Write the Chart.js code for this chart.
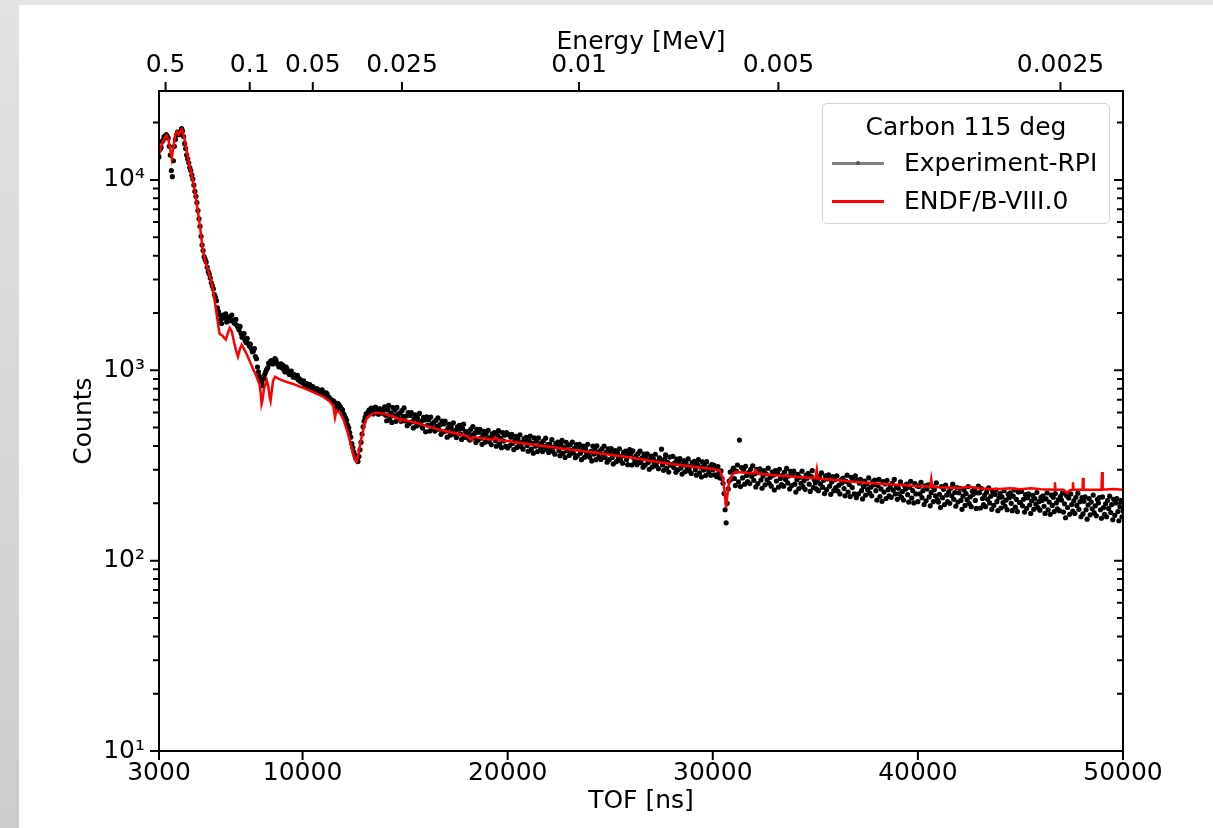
<!DOCTYPE html>
<html>
<head>
<meta charset="utf-8">
<title>Carbon 115 deg</title>
<script src="https://cdn.jsdelivr.net/npm/chart.js@4.4.1/dist/chart.umd.min.js"></script>
<style>
  html, body { margin: 0; padding: 0; }
  body { width: 1213px; height: 828px; background: #e4e4e4; position: relative; overflow: hidden; font-family: "DejaVu Sans", sans-serif; }
  .strip { position: absolute; left: 0; top: 5px; width: 19px; bottom: 0; background: linear-gradient(#e2e2e2, #cdcdcd); }
  .sheet { position: absolute; left: 19px; top: 5px; right: 0; bottom: 0; background: #fff; }
  .wrap { position: absolute; left: 0; top: 0; width: 1213px; height: 828px; }
  .legend { position: absolute; left: 822px; top: 103px; width: 286px; height: 119px; border: 1px solid #d3d3d3; border-radius: 5px; background: rgba(255,255,255,0.8); font-size: 25px; line-height: 30px; color: #000; }
  .legend .title { position: absolute; left: 0; right: 0; top: 8px; text-align: center; }
  .legend .row { position: absolute; left: 81px; white-space: nowrap; }
  .legend .swatch { position: absolute; left: 9px; width: 52px; height: 2.5px; }
  .legend .dot { position: absolute; left: 24px; top: -1px; width: 4px; height: 4px; border-radius: 50%; background: #555; }
</style>
</head>
<body>
<div class="strip"></div>
<div class="sheet"></div>
<div class="wrap"><canvas id="tof"></canvas></div>
<div class="legend">
  <div class="title">Carbon 115 deg</div>
  <div class="swatch" style="top:58px;background:#808080"><div class="dot"></div></div>
  <div class="row" style="top:44px">Experiment-RPI</div>
  <div class="swatch" style="top:96px;background:#ff0000"></div>
  <div class="row" style="top:82px">ENDF/B-VIII.0</div>
</div>
<script>
// axis ticks
const tofTicks = [3000, 10000, 20000, 30000, 40000, 50000];
const energyTicks = [0.5, 0.1, 0.05, 0.025, 0.01, 0.005, 0.0025]; // MeV
const countTicks = [10, 100, 1000, 10000];
const flightPath = 32.47; // m, matches the energy axis on top

// experiment, one value per 50 ns bin starting at 3000 ns (one row = 1000 ns)
const tofStart = 3000;
const tofStep = 50;
const expCounts = [
  13200, 14500, 14800, 15900, 16200, 16900, 16700, 17300, 17000, 16600, 15000, 13500, 11200, 10400, 12600, 15000, 16300, 17200, 17800, 17300,
  17300, 18000, 18600, 18100, 16900, 15500, 14600, 13500, 12900, 12300, 11600, 11200, 10600, 10100, 9400, 8700, 8200, 7600, 6900, 6250,
  5700, 5050, 4550, 4250, 3950, 3820, 3700, 3480, 3300, 3200, 3050, 2880, 2780, 2680, 2500, 2420, 2320, 2130, 2030, 1950,
  1840, 1760, 1950, 1890, 1880, 1980, 1790, 1850, 1900, 1820, 1860, 1950, 1830, 1780, 1760, 1850, 1720, 1680, 1630, 1700,
  1560, 1490, 1500, 1560, 1430, 1400, 1470, 1380, 1340, 1370, 1300, 1250, 1260, 1300, 1180, 1150, 1040, 980, 930, 890,
  860, 830, 900, 950, 980, 1010, 1030, 1090, 1080, 1120, 1120, 1080, 1100, 1150, 1130, 1090, 1070, 1040, 1050, 1080,
  1030, 1060, 1000, 980, 1040, 1010, 980, 950, 960, 990, 940, 920, 950, 930, 910, 940, 890, 900, 870, 880,
  860, 880, 830, 850, 850, 820, 815, 840, 800, 790, 820, 800, 790, 770, 800, 790, 770, 760, 775, 790,
  765, 750, 740, 760, 750, 720, 720, 705, 700, 690, 690, 680, 640, 620, 670, 665, 650, 640, 625, 620,
  590, 578, 560, 545, 515, 498, 470, 445, 412, 392, 372, 358, 345, 338, 332, 352, 382, 418, 462, 505,
  540, 565, 590, 575, 605, 620, 598, 632, 610, 590, 625, 640, 605, 615, 588, 628, 600, 612, 595, 620,
  642, 581, 543, 620, 654, 558, 598, 532, 637, 577, 617, 539, 638, 584, 554, 598, 539, 614, 572, 634,
  542, 575, 511, 599, 525, 579, 600, 537, 498, 557, 583, 510, 563, 535, 593, 516, 541, 497, 565, 548,
  475, 569, 515, 550, 480, 568, 520, 492, 533, 479, 545, 507, 562, 490, 518, 461, 540, 474, 522, 541,
  480, 445, 497, 520, 456, 504, 477, 530, 461, 484, 443, 505, 490, 513, 463, 433, 494, 521, 444, 476,
  465, 441, 477, 430, 490, 456, 506, 441, 467, 417, 489, 429, 473, 490, 440, 408, 457, 478, 419, 463,
  436, 484, 422, 443, 407, 464, 450, 471, 427, 399, 456, 482, 411, 440, 392, 470, 425, 456, 398, 471,
  391, 459, 402, 445, 461, 413, 383, 428, 449, 393, 435, 413, 458, 398, 418, 385, 438, 424, 444, 402,
  375, 427, 451, 385, 413, 367, 441, 399, 426, 374, 441, 404, 384, 415, 374, 426, 397, 440, 384, 407,
  370, 409, 389, 432, 375, 395, 362, 413, 401, 419, 379, 356, 406, 428, 366, 392, 348, 418, 378, 404,
  357, 406, 379, 420, 367, 389, 347, 407, 356, 394, 408, 367, 339, 380, 399, 349, 386, 367, 408, 354,
  350, 375, 334, 400, 363, 387, 339, 401, 367, 349, 377, 340, 387, 361, 400, 348, 370, 329, 387, 339,
  374, 388, 348, 322, 362, 378, 331, 367, 348, 387, 336, 353, 325, 370, 358, 376, 340, 319, 363, 383,
  364, 318, 377, 345, 328, 354, 319, 364, 339, 376, 327, 347, 309, 363, 318, 352, 364, 327, 302, 338,
  354, 310, 343, 325, 362, 314, 331, 304, 347, 336, 385, 318, 298, 340, 359, 306, 328, 292, 350, 317,
  319, 353, 308, 326, 291, 341, 300, 331, 343, 307, 285, 319, 335, 293, 324, 308, 342, 297, 313, 287,
  327, 316, 332, 300, 281, 320, 339, 289, 310, 275, 330, 299, 320, 280, 331, 303, 288, 311, 281, 319,
  300, 318, 282, 308, 276, 312, 290, 272, 296, 270, 255, 225, 185, 158, 200, 238, 262, 292, 268, 296,
  306, 270, 248, 295, 318, 259, 430, 245, 308, 272, 300, 252, 313, 280, 260, 291, 254, 302, 277, 315,
  264, 286, 244, 302, 254, 290, 303, 265, 240, 278, 297, 250, 286, 266, 306, 255, 274, 246, 292, 281,
  235, 297, 262, 289, 243, 302, 270, 251, 281, 246, 292, 267, 305, 256, 278, 238, 294, 248, 283, 295,
  252, 229, 266, 284, 239, 274, 255, 295, 245, 263, 237, 281, 271, 287, 252, 231, 276, 297, 242, 266,
  256, 238, 266, 233, 276, 253, 289, 243, 264, 225, 279, 236, 269, 282, 246, 223, 259, 276, 233, 266,
  242, 279, 232, 249, 224, 266, 256, 271, 239, 219, 261, 281, 229, 251, 217, 274, 242, 266, 224, 279,
  214, 265, 224, 255, 267, 233, 211, 245, 262, 221, 253, 236, 272, 226, 243, 219, 260, 250, 265, 233,
  208, 248, 267, 217, 238, 205, 260, 229, 253, 212, 264, 236, 219, 245, 215, 255, 234, 267, 224, 243,
  210, 240, 224, 259, 215, 231, 208, 247, 238, 252, 222, 203, 243, 261, 213, 233, 201, 254, 224, 247,
  204, 245, 224, 258, 214, 233, 197, 247, 206, 238, 250, 216, 194, 228, 245, 204, 236, 219, 256, 209,
  203, 223, 190, 245, 214, 237, 197, 249, 221, 204, 230, 200, 240, 219, 252, 210, 228, 193, 242, 203,
  227, 240, 207, 186, 218, 235, 195, 225, 209, 245, 200, 216, 192, 232, 223, 237, 207, 188, 227, 246,
  227, 189, 239, 212, 197, 221, 192, 229, 210, 241, 201, 218, 186, 231, 195, 223, 235, 204, 183, 214,
  225, 189, 216, 202, 233, 193, 208, 185, 223, 214, 227, 200, 183, 218, 235, 191, 210, 181, 229, 202,
  202, 231, 194, 210, 180, 222, 188, 214, 224, 196, 177, 206, 220, 186, 212, 198, 228, 190, 204, 184,
  215, 207, 219, 193, 177, 211, 227, 185, 203, 175, 221, 195, 215, 181, 225, 201, 187, 209, 183, 217,
  208, 226, 180, 199, 168, 220, 190, 213, 175, 224, 197, 182, 206, 177, 215, 195, 226, 186, 204, 170,
  214, 176, 205, 216, 185, 165, 196, 212, 174, 203, 187, 221, 178, 194, 172, 210, 201, 214, 185, 167,
  216, 190, 175, 199, 170, 207, 188, 218, 179, 197, 164, 210, 173, 201, 212, 181, 162, 192, 207, 170,
  182
];

// ENDF/B-VIII.0 calculation
const endfTof = [
  3000, 3080, 3180, 3280, 3370, 3450, 3540, 3620, 3700, 3780,
  3860, 3960, 4040, 4110, 4200, 4300, 4400, 4500, 4600, 4700,
  4800, 4900, 5000, 5100, 5200, 5300, 5400, 5500, 5600, 5700,
  5800, 5900, 5950, 6000, 6100, 6200, 6260, 6350, 6450, 6550,
  6650, 6750, 6850, 6950, 7030, 7150, 7300, 7450, 7600, 7750,
  7900, 7960, 8000, 8050, 8120, 8250, 8330, 8400, 8440, 8480,
  8560, 8660, 8800, 9000, 9500, 10000, 10500, 11000, 11300, 11500,
  11580, 11650, 11825, 12000, 12200, 12400, 12550, 12630, 12720, 12850,
  13000, 13130, 13400, 13600, 14000, 14400, 14700, 14750, 14800, 15200,
  15600, 16000, 16360, 16700, 17000, 17500, 18000, 18260, 18320, 18700,
  19000, 19300, 19400, 19500, 20000, 21000, 22000, 23000, 24000, 25000,
  26000, 27000, 28000, 29000, 30000, 30350, 30500, 30600, 30650, 30700,
  30800, 30950, 31100, 31500, 32000, 32100, 32200, 33000, 34000, 35000,
  35070, 35120, 36000, 37000, 38000, 39000, 40000, 40600, 40650, 40700,
  41000, 42000, 42500, 43000, 43500, 44000, 44500, 45000, 45500, 46000,
  46650, 46680, 46710, 47100, 47270, 47400, 47540, 47560, 47590, 48030,
  48050, 48080, 48950, 48980, 49010, 49500, 50000
];
const endfCounts = [
  13500, 14600, 15800, 16600, 17100, 16400, 14600, 13000, 14800, 17000,
  17900, 17300, 17900, 18400, 17200, 15300, 13300, 11800, 10500, 9300,
  8000, 6800, 5700, 4600, 3950, 3600, 3350, 3050, 2750, 2380,
  2000, 1690, 1560, 1540, 1520, 1470, 1450, 1560, 1670, 1600,
  1420, 1280, 1180, 1300, 1360, 1290, 1200, 1100, 1010, 930,
  840, 760, 665, 700, 800, 890, 820, 720, 690, 750,
  880, 925, 905, 885, 850, 810, 770, 726, 690, 650,
  565, 615, 598, 548, 470, 390, 340, 330, 360, 430,
  510, 562, 590, 598, 590, 572, 556, 540, 552, 540,
  528, 512, 498, 486, 478, 465, 452, 430, 446, 440,
  436, 432, 445, 432, 425, 410, 396, 383, 372, 360,
  348, 334, 322, 312, 303, 297, 268, 215, 190, 215,
  262, 282, 292, 290, 287, 298, 287, 281, 276, 271,
  300, 270, 265, 259, 254, 250, 246, 245, 268, 245,
  243, 241, 244, 240, 238, 238, 240, 237, 240, 237,
  236, 258, 236, 236, 226, 234, 236, 258, 236, 236,
  272, 236, 236, 292, 236, 238, 236
];

function tofOfEnergy(mev) {
  // t[us] = 72.3 * L / sqrt(E[eV])
  return 72.3 * flightPath / Math.sqrt(mev * 1e6) * 1000;
}

const supDigits = { 1: "\u00b9", 2: "\u00b2", 3: "\u00b3", 4: "\u2074" };

const expPoints = expCounts.map((c, i) => ({ x: tofStart + i * tofStep, y: c }));
const endfPoints = endfTof.map((t, i) => ({ x: t, y: endfCounts[i] }));

Chart.defaults.font.family = "'DejaVu Sans', sans-serif";
Chart.defaults.font.size = 25;
Chart.defaults.color = "#000";

const tickFont = { family: "'DejaVu Sans', sans-serif", size: 25 };
const noGrid = { display: false, drawTicks: false, tickLength: 0 };

// matplotlib-like frame and tick marks
const mplAxes = {
  id: "mplAxes",
  afterDraw(chart) {
    const { ctx, chartArea: a, scales } = chart;
    ctx.save();
    ctx.strokeStyle = "#000";
    ctx.lineWidth = 2;
    ctx.strokeRect(a.left, a.top, a.right - a.left, a.bottom - a.top);
    ctx.beginPath();
    tofTicks.forEach(v => {
      const x = scales.x.getPixelForValue(v);
      ctx.moveTo(x, a.bottom);
      ctx.lineTo(x, a.bottom + 9);
    });
    energyTicks.forEach(e => {
      const x = scales.x2.getPixelForValue(tofOfEnergy(e));
      ctx.moveTo(x, a.top);
      ctx.lineTo(x, a.top - 9);
    });
    for (let d = 1; d <= 4; d++) {
      for (let m = 1; m <= 9; m++) {
        const v = m * Math.pow(10, d);
        if (v > scales.y.max) break;
        const y = scales.y.getPixelForValue(v);
        const len = m === 1 ? 9 : 6;
        ctx.moveTo(a.left, y);
        ctx.lineTo(a.left - len, y);
        ctx.moveTo(a.right, y);
        ctx.lineTo(a.right - len, y);
      }
    }
    ctx.stroke();
    ctx.restore();
  }
};

new Chart(document.getElementById("tof"), {
  type: "scatter",
  data: {
    datasets: [
      {
        label: "ENDF/B-VIII.0",
        data: endfPoints,
        showLine: true,
        borderColor: "#ff0000",
        borderWidth: 2.5,
        pointRadius: 0,
        order: 0
      },
      {
        label: "Experiment-RPI",
        data: expPoints,
        showLine: false,
        pointRadius: 2.6,
        pointBorderWidth: 0,
        pointBackgroundColor: "#000",
        order: 1
      }
    ]
  },
  options: {
    responsive: true,
    maintainAspectRatio: false,
    animation: false,
    layout: { padding: { left: 0, top: 0, right: 90, bottom: 0 } },
    plugins: { legend: { display: false }, tooltip: { enabled: false } },
    scales: {
      x: {
        type: "linear",
        position: "bottom",
        min: 3000,
        max: 50000,
        afterBuildTicks: s => { s.ticks = tofTicks.map(v => ({ value: v })); },
        afterFit: s => { s.height = 77; },
        grid: noGrid,
        border: { display: false },
        ticks: { font: tickFont, color: "#000", padding: 7, autoSkip: false, maxRotation: 0, callback: v => String(v) },
        title: { display: true, text: "TOF [ns]", font: tickFont, color: "#000", padding: { top: 0, bottom: 12 } }
      },
      x2: {
        type: "linear",
        position: "top",
        min: 3000,
        max: 50000,
        afterBuildTicks: s => { s.ticks = energyTicks.map(e => ({ value: tofOfEnergy(e) })); },
        afterFit: s => { s.height = 91; },
        grid: noGrid,
        border: { display: false },
        ticks: { font: tickFont, color: "#000", padding: 11, autoSkip: false, maxRotation: 0, callback: (v, i) => String(energyTicks[i]) },
        title: { display: true, text: "Energy [MeV]", font: tickFont, color: "#000", padding: { top: 27, bottom: 0 } }
      },
      y: {
        type: "logarithmic",
        position: "left",
        min: 10,
        max: 29300,
        afterBuildTicks: s => { s.ticks = countTicks.map(v => ({ value: v, major: true })); },
        afterFit: s => { s.width = 159; },
        grid: noGrid,
        border: { display: false },
        ticks: { font: tickFont, color: "#000", padding: 14, autoSkip: false, callback: v => "10" + supDigits[Math.round(Math.log10(v))] },
        title: { display: true, text: "Counts", font: tickFont, color: "#000", padding: { top: 69, bottom: 0 } }
      }
    }
  },
  plugins: [mplAxes]
});
</script>
</body>
</html>
